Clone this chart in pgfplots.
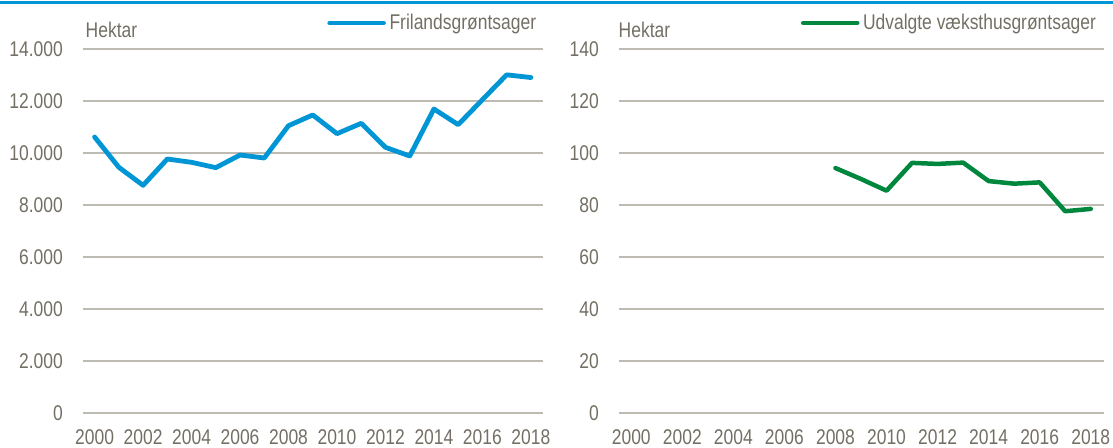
\documentclass[border=0pt]{standalone}
\usepackage{fontspec}
\setmainfont{Liberation Sans}[FakeStretch=0.82]
\usepackage{pgfplots}
\pgfplotsset{compat=1.18}
\definecolor{txt}{RGB}{115,111,100}
\definecolor{grd}{RGB}{190,187,178}
\definecolor{blu}{RGB}{0,150,214}
\definecolor{grn}{RGB}{0,135,62}
\newcommand\lf{\fontsize{21.3bp}{24bp}\selectfont}
\pgfplotsset{
 mystyle/.style={
  scale only axis, height=364bp,
  axis line style={draw=none},
  ymajorgrids, grid style={grd, line width=1.2bp},
  major tick length=0pt,
  tick style={draw=none},
  scaled y ticks=false,
  xmin=1999.5, xmax=2018.5, ymin=0,
  xtick={2000,2002,...,2018},
  xticklabels={2000,2002,2004,2006,2008,2010,2012,2014,2016,2018},
  xticklabel style={inner sep=0pt, anchor=north, yshift=-16bp},
  yticklabel style={inner sep=0pt, anchor=east, xshift=-19.5bp},
  ticklabel style={font=\lf, text=txt},
  /pgf/number format/assume math mode=true,
  legend style={draw=none, fill=none, inner sep=0pt, outer sep=0pt, font=\lf, text=txt,
    anchor=east, legend cell align=left, nodes={inner sep=0pt}},
  legend image code/.code={\draw[##1, line width=4.5bp] (0bp,0bp) -- (54bp,0bp); \path (57.5bp,0bp);},
  clip=false,
 }
}
\begin{document}
\begin{tikzpicture}
\useasboundingbox (0bp,0bp) rectangle (1113bp,448bp);
\fill[blu] (0bp,444bp) rectangle (1113bp,447bp);
\begin{axis}[mystyle, at={(82.5bp,35bp)}, anchor=south west, width=460.5bp,
  ymax=14000, ytick={0,2000,...,14000},
  yticklabels={0,2.000,4.000,6.000,8.000,10.000,12.000,14.000},
  legend style={at={(0.985,1)}, yshift=26bp}]
\addplot[blu, line width=4.8bp, line join=round, line cap=round] coordinates {
(2000,10615) (2001,9449) (2002,8756) (2003,9769) (2004,9641) (2005,9436)
(2006,9923) (2007,9808) (2008,11051) (2009,11462) (2010,10744) (2011,11141)
(2012,10218) (2013,9885) (2014,11692) (2015,11090) (2016,12050) (2017,13006) (2018,12903)};
\addlegendentry{Frilandsgrøntsager}
\node[anchor=west, text=txt, font=\lf, inner sep=0pt] at (rel axis cs:0,1) [xshift=3bp, yshift=19bp] {Hektar};
\end{axis}
\begin{axis}[mystyle, at={(618.5bp,35bp)}, anchor=south west, width=485bp,
  ymax=140, ytick={0,20,...,140},
  legend style={at={(0.9845,1)}, yshift=26bp}]
\addplot[grn, line width=4.5bp, line join=round, line cap=round] coordinates {
(2008,94.2) (2009,90.0) (2010,85.5) (2011,96.2) (2012,95.8) (2013,96.3)
(2014,89.2) (2015,88.2) (2016,88.7) (2017,77.6) (2018,78.5)};
\addlegendentry{Udvalgte væksthusgrøntsager}
\node[anchor=west, text=txt, font=\lf, inner sep=0pt] at (rel axis cs:0,1) [yshift=19bp] {Hektar};
\end{axis}
\end{tikzpicture}
\end{document}
